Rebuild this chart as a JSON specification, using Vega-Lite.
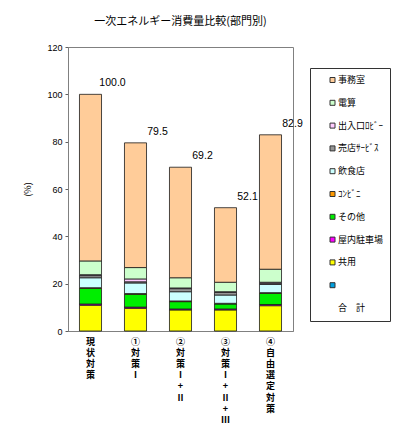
{
  "$schema": "https://vega.github.io/schema/vega-lite/v6.json",
  "autosize": {"type": "none"},
  "width": 225,
  "height": 284,
  "padding": {"left": 68, "top": 47, "right": 107, "bottom": 117},
  "background": "white",
  "title": {
    "text": "一次エネルギー消費量比較(部門別)",
    "font": "Noto Sans CJK JP",
    "fontSize": 11,
    "fontWeight": "normal",
    "color": "#000000",
    "anchor": "middle",
    "frame": "group",
    "offset": 16
  },
  "datasets": {
    "parts": [
      {"case": "現状対策", "part": "共用", "v": 10.9},
      {"case": "現状対策", "part": "屋内駐車場", "v": 0.5},
      {"case": "現状対策", "part": "その他", "v": 6.6},
      {"case": "現状対策", "part": "ｺﾝﾋﾞﾆ", "v": 0.3},
      {"case": "現状対策", "part": "飲食店", "v": 4.2},
      {"case": "現状対策", "part": "売店ｻｰﾋﾞｽ", "v": 0.9},
      {"case": "現状対策", "part": "出入口ﾛﾋﾞｰ", "v": 0.4},
      {"case": "現状対策", "part": "電算", "v": 5.8},
      {"case": "現状対策", "part": "事務室", "v": 70.4},
      {"case": "①対策Ⅰ", "part": "共用", "v": 9.6},
      {"case": "①対策Ⅰ", "part": "屋内駐車場", "v": 0.5},
      {"case": "①対策Ⅰ", "part": "その他", "v": 5.4},
      {"case": "①対策Ⅰ", "part": "ｺﾝﾋﾞﾆ", "v": 0.3},
      {"case": "①対策Ⅰ", "part": "飲食店", "v": 4.5},
      {"case": "①対策Ⅰ", "part": "売店ｻｰﾋﾞｽ", "v": 0.5},
      {"case": "①対策Ⅰ", "part": "出入口ﾛﾋﾞｰ", "v": 1.2},
      {"case": "①対策Ⅰ", "part": "電算", "v": 4.8},
      {"case": "①対策Ⅰ", "part": "事務室", "v": 52.7},
      {"case": "②対策Ⅰ+Ⅱ", "part": "共用", "v": 8.9},
      {"case": "②対策Ⅰ+Ⅱ", "part": "屋内駐車場", "v": 0.4},
      {"case": "②対策Ⅰ+Ⅱ", "part": "その他", "v": 3.1},
      {"case": "②対策Ⅰ+Ⅱ", "part": "ｺﾝﾋﾞﾆ", "v": 0.3},
      {"case": "②対策Ⅰ+Ⅱ", "part": "飲食店", "v": 3.9},
      {"case": "②対策Ⅰ+Ⅱ", "part": "売店ｻｰﾋﾞｽ", "v": 1.3},
      {"case": "②対策Ⅰ+Ⅱ", "part": "出入口ﾛﾋﾞｰ", "v": 0.3},
      {"case": "②対策Ⅰ+Ⅱ", "part": "電算", "v": 4.3},
      {"case": "②対策Ⅰ+Ⅱ", "part": "事務室", "v": 46.7},
      {"case": "③対策Ⅰ+Ⅱ+Ⅲ", "part": "共用", "v": 8.9},
      {"case": "③対策Ⅰ+Ⅱ+Ⅲ", "part": "屋内駐車場", "v": 0.4},
      {"case": "③対策Ⅰ+Ⅱ+Ⅲ", "part": "その他", "v": 2.1},
      {"case": "③対策Ⅰ+Ⅱ+Ⅲ", "part": "ｺﾝﾋﾞﾆ", "v": 0.3},
      {"case": "③対策Ⅰ+Ⅱ+Ⅲ", "part": "飲食店", "v": 3.5},
      {"case": "③対策Ⅰ+Ⅱ+Ⅲ", "part": "売店ｻｰﾋﾞｽ", "v": 1.1},
      {"case": "③対策Ⅰ+Ⅱ+Ⅲ", "part": "出入口ﾛﾋﾞｰ", "v": 0.3},
      {"case": "③対策Ⅰ+Ⅱ+Ⅲ", "part": "電算", "v": 4.0},
      {"case": "③対策Ⅰ+Ⅱ+Ⅲ", "part": "事務室", "v": 31.5},
      {"case": "④自由選定対策", "part": "共用", "v": 10.7},
      {"case": "④自由選定対策", "part": "屋内駐車場", "v": 0.5},
      {"case": "④自由選定対策", "part": "その他", "v": 4.7},
      {"case": "④自由選定対策", "part": "ｺﾝﾋﾞﾆ", "v": 0.3},
      {"case": "④自由選定対策", "part": "飲食店", "v": 3.5},
      {"case": "④自由選定対策", "part": "売店ｻｰﾋﾞｽ", "v": 0.5},
      {"case": "④自由選定対策", "part": "出入口ﾛﾋﾞｰ", "v": 0.4},
      {"case": "④自由選定対策", "part": "電算", "v": 5.5},
      {"case": "④自由選定対策", "part": "事務室", "v": 56.8}
    ],
    "totals": [
      {"case": "現状対策", "total": 100.0},
      {"case": "①対策Ⅰ", "total": 79.5},
      {"case": "②対策Ⅰ+Ⅱ", "total": 69.2},
      {"case": "③対策Ⅰ+Ⅱ+Ⅲ", "total": 52.1},
      {"case": "④自由選定対策", "total": 82.9}
    ]
  },
  "layer": [
    {
      "data": {"name": "parts"},
      "transform": [
        {"calculate": "indexof(['事務室','電算','出入口ﾛﾋﾞｰ','売店ｻｰﾋﾞｽ','飲食店','ｺﾝﾋﾞﾆ','その他','屋内駐車場','共用',' ','合　計'], datum.part)", "as": "stackIdx"}
      ],
      "mark": {"type": "bar", "stroke": "#1a1a1a", "strokeWidth": 0.8},
      "encoding": {
        "x": {
          "field": "case",
          "type": "nominal",
          "sort": ["現状対策", "①対策Ⅰ", "②対策Ⅰ+Ⅱ", "③対策Ⅰ+Ⅱ+Ⅲ", "④自由選定対策"],
          "scale": {"paddingInner": 0.51, "paddingOuter": 0.255},
          "axis": {
            "title": null,
            "labelExpr": "split(datum.label, '')",
            "labelAngle": 0,
            "labelAlign": "center",
            "labelBaseline": "top",
            "labelFont": "Noto Sans CJK JP",
            "labelFontSize": 9,
            "labelFontWeight": "bold",
            "labelLineHeight": 11.2,
            "labelPadding": 6,
            "labelColor": "#000000",
            "labelOverlap": false,
            "ticks": false,
            "domainColor": "#808080"
          }
        },
        "y": {
          "field": "v",
          "type": "quantitative",
          "stack": "zero",
          "scale": {"domain": [0, 120], "nice": false},
          "axis": {
            "title": "(%)",
            "titleFont": "Noto Sans CJK JP",
            "titleFontSize": 9,
            "titleFontWeight": "normal",
            "titleColor": "#000000",
            "titlePadding": 14,
            "values": [0, 20, 40, 60, 80, 100, 120],
            "grid": false,
            "tickSize": 3,
            "tickColor": "#606060",
            "domainColor": "#808080",
            "labelFont": "Liberation Sans",
            "labelFontSize": 9,
            "labelColor": "#000000",
            "labelPadding": 3
          }
        },
        "color": {
          "field": "part",
          "type": "nominal",
          "scale": {
            "domain": ["事務室", "電算", "出入口ﾛﾋﾞｰ", "売店ｻｰﾋﾞｽ", "飲食店", "ｺﾝﾋﾞﾆ", "その他", "屋内駐車場", "共用", " ", "合　計"],
            "range": ["#FFCC99", "#CCFFCC", "#FFCCFF", "#969696", "#CCFFFF", "#FF9900", "#00EE00", "#FF00FF", "#FFFF00", "#00A0E0", "#FFFFFF"]
          },
          "legend": {
            "orient": "none",
            "legendX": 242,
            "legendY": 21,
            "title": null,
            "direction": "vertical",
            "fillColor": "#FFFFFF",
            "strokeColor": "#333333",
            "padding": 6,
            "symbolType": "square",
            "symbolSize": 25,
            "symbolStrokeColor": "#333333",
            "symbolStrokeWidth": 1,
            "symbolOffset": 12,
            "labelOffset": 1,
            "labelFont": "Noto Sans CJK JP",
            "labelFontSize": 9,
            "labelColor": "#000000",
            "labelLimit": 200,
            "clipHeight": 12,
            "rowPadding": 10.8,
            "encode": {
              "symbols": {"update": {"opacity": {"signal": "datum.value === '合　計' ? 0 : 1"}}}
            }
          }
        },
        "order": {"field": "stackIdx", "sort": "descending"}
      }
    },
    {
      "data": {"name": "totals"},
      "mark": {
        "type": "text",
        "dx": 22,
        "dy": -11,
        "align": "center",
        "baseline": "middle",
        "font": "Liberation Sans",
        "fontSize": 10.5,
        "color": "#000000"
      },
      "encoding": {
        "x": {"field": "case", "type": "nominal", "sort": ["現状対策", "①対策Ⅰ", "②対策Ⅰ+Ⅱ", "③対策Ⅰ+Ⅱ+Ⅲ", "④自由選定対策"]},
        "y": {"field": "total", "type": "quantitative"},
        "text": {"field": "total", "type": "quantitative", "format": ".1f"}
      }
    }
  ],
  "config": {
    "view": {"stroke": "#808080", "strokeWidth": 1}
  }
}
